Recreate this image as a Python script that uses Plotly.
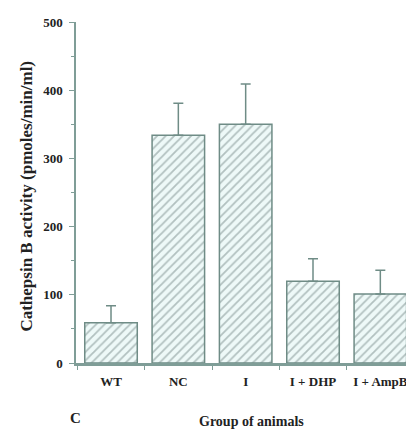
import plotly.graph_objects as go

groups = ["WT", "NC", "I", "I + DHP", "I + AmpB"]
activity = [59, 334, 350, 120, 101]
sem = [25, 47, 59, 33, 35]
y_ticks = [0, 100, 200, 300, 400, 500]

axis_col = "#7f9d97"
font_fam = "Liberation Serif, Times New Roman, serif"

fig = go.Figure()
fig.add_trace(go.Bar(
    x=groups, y=activity, width=0.78,
    marker=dict(
        color="#eef9f8",
        line=dict(color="#6f8c86", width=1.5),
        pattern=dict(shape="/", fgcolor="#768a87", bgcolor="#eef9f8", size=6, solidity=0.3),
    ),
    error_y=dict(type="data", array=sem, arrayminus=[0] * len(sem), symmetric=False,
                 color="#6f8c86", thickness=1.5, width=5),
    showlegend=False,
))

fig.update_layout(
    width=406, height=433,
    margin=dict(l=68, r=0, t=14, b=78),
    plot_bgcolor="white", paper_bgcolor="white",
    font=dict(family=font_fam, color="#222222", size=13),
)
fig.update_xaxes(
    range=[-0.52, 4.5], showline=True, linecolor=axis_col, linewidth=2.5,
    ticks="outside", tickson="boundaries", ticklen=4, tickcolor=axis_col,
    ticklabelstandoff=5,
    tickfont=dict(family=font_fam, size=13, color="#222222", weight="bold"),
    showgrid=False, zeroline=False,
)
fig.update_yaxes(
    range=[0, 500], tickvals=y_ticks, showline=True, linecolor=axis_col, linewidth=1.5,
    ticks="outside", ticklen=5, tickcolor=axis_col,
    ticklabelstandoff=4,
    minor=dict(ticks="outside", dtick=50, ticklen=3, tickcolor=axis_col),
    tickfont=dict(family=font_fam, size=13, color="#222222", weight="bold"),
    showgrid=False, zeroline=False,
)

fig.add_annotation(text="<b>Cathepsin B activity (pmoles/min/ml)</b>", textangle=-90,
                   xref="paper", yref="paper", x=-0.18, y=0.49, showarrow=False,
                   font=dict(family=font_fam, size=17, color="#222222"))
fig.add_annotation(text="<b>Group of animals</b>", xref="paper", yref="paper",
                   x=0.518, y=-0.2, showarrow=False,
                   font=dict(family=font_fam, size=14, color="#222222"))
fig.add_annotation(text="<b>C</b>", xref="paper", yref="paper",
                   x=-0.025, y=-0.19, showarrow=False,
                   font=dict(family=font_fam, size=15, color="#222222"))

fig.write_html("out.html")
